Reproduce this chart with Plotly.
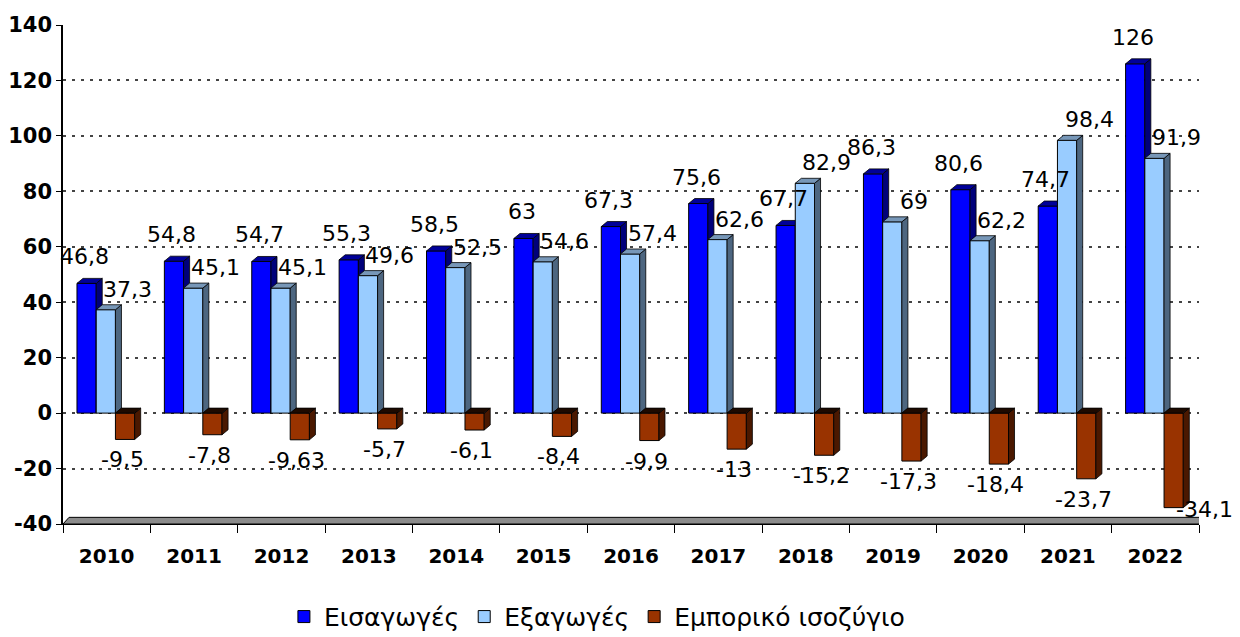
import plotly.graph_objects as go

years = ["2010", "2011", "2012", "2013", "2014", "2015", "2016",
         "2017", "2018", "2019", "2020", "2021", "2022"]
imports = [46.8, 54.8, 54.7, 55.3, 58.5, 63, 67.3, 75.6, 67.7, 86.3, 80.6, 74.7, 126]
exports = [37.3, 45.1, 45.1, 49.6, 52.5, 54.6, 57.4, 62.6, 82.9, 69, 62.2, 98.4, 91.9]
balance = [-9.5, -7.8, -9.63, -5.7, -6.1, -8.4, -9.9, -13, -15.2, -17.3, -18.4, -23.7, -34.1]
series_names = ["Εισαγωγές", "Εξαγωγές", "Εμπορικό ισοζύγιο"]
y_ticks = [-40, -20, 0, 20, 40, 60, 80, 100, 120, 140]
y_tick_labels = ["-40", "-20", "0", "20", "40", "60", "80", "100", "120", "140"]

FONT = "DejaVu Sans"
XR = [-0.5, 12.5]
YR = [-40, 140]
W = 0.22          # bar width (category units)
DX = 0.069        # 3D depth, x (category units)
DY = 1.8          # 3D depth, y (value units)

styles = [
    dict(offset=-0.34, front="#0000FF", side="#00007A", top="#000099", dx=-2, dy=12, pos="up"),
    dict(offset=-0.12, front="#99CCFF", side="#4D6680", top="#7797B8", dx=22, dy=6, pos="up"),
    dict(offset=0.10, front="#993300", side="#4A1800", top="#1E0A00", dx=-3, dy=-6, pos="down"),
]
data = [imports, exports, balance]

fig = go.Figure()
annotations = []
idx = list(range(len(years)))

def fmt(v):
    return f"{v:g}".replace(".", ",")

for k, (vals, st, name) in enumerate(zip(data, styles, series_names)):
    xa = "x" if k == 0 else f"x{k+1}"
    ya = "y" if k == 0 else f"y{k+1}"
    fig.add_trace(go.Bar(
        x=idx, y=vals, width=W, offset=st["offset"], name=name,
        marker=dict(color=st["front"], line=dict(color="#000000", width=1)),
        xaxis=xa, yaxis=ya, hoverinfo="skip",
    ))
    sx, sy, tx, ty = [], [], [], []
    for i, v in zip(idx, vals):
        x0 = i + st["offset"]
        x1 = x0 + W
        sx += [x1, x1 + DX, x1 + DX, x1, x1, None]
        sy += [0, DY, v + DY, v, 0, None]
        t = max(v, 0)
        tx += [x0, x0 + DX, x1 + DX, x1, x0, None]
        ty += [t, t + DY, t + DY, t, t, None]
    for px, py, col in ((sx, sy, st["side"]), (tx, ty, st["top"])):
        fig.add_trace(go.Scatter(
            x=px, y=py, mode="lines", fill="toself", fillcolor=col,
            line=dict(color="#000000", width=0.8), showlegend=False,
            xaxis=xa, yaxis=ya, hoverinfo="skip",
        ))
    for i, v in zip(idx, vals):
        xc = i + st["offset"] + W / 2
        if st["pos"] == "up":
            annotations.append(dict(x=xc, y=v, xref="x", yref="y", text=fmt(v),
                                    showarrow=False, yanchor="bottom",
                                    xshift=st["dx"], yshift=st["dy"]))
        elif v < -30:
            annotations.append(dict(x=i + st["offset"] + W, y=v, xref="x", yref="y",
                                    text=fmt(v), showarrow=False, xanchor="left",
                                    yanchor="middle", xshift=-9, yshift=-2))
        else:
            annotations.append(dict(x=xc, y=v, xref="x", yref="y", text=fmt(v),
                                    showarrow=False, yanchor="top",
                                    xshift=st["dx"], yshift=st["dy"]))

for a in annotations:
    a["font"] = dict(family=FONT, size=22, color="#000000")

floor = (f"M {XR[0]},{YR[0]} L {XR[1]},{YR[0]} L {XR[1] + DX},{YR[0] + 2.4} "
         f"L {XR[0] + DX},{YR[0] + 2.4} Z")

fig.update_layout(
    width=1232, height=629,
    margin=dict(l=55, r=41, t=17, b=113, autoexpand=False),
    paper_bgcolor="#FFFFFF", plot_bgcolor="#FFFFFF",
    barmode="overlay",
    font=dict(family=FONT, color="#000000"),
    showlegend=True,
    legend=dict(orientation="h", x=0.47, xanchor="center", y=-0.186, yanchor="middle",
                font=dict(family=FONT, size=25, color="#000000"),
                itemclick=False, traceorder="normal"),
    xaxis=dict(range=XR, tickmode="array", tickvals=idx, ticktext=years,
               ticks="", showgrid=False, zeroline=False, automargin=False,
               showline=True, linecolor="#000000", linewidth=1, ticklabelstandoff=14,
               tickfont=dict(family=FONT, size=20, color="#000000", weight="bold"),
               minor=dict(tickmode="array", tickvals=[i - 0.5 for i in range(len(years) + 1)],
                          ticks="outside", ticklen=8, tickcolor="#000000", tickwidth=1,
                          showgrid=False)),
    yaxis=dict(range=YR, tickmode="array", tickvals=y_ticks, ticktext=y_tick_labels,
               ticks="outside", ticklen=5, tickcolor="#000000", automargin=False,
               showline=True, linecolor="#000000", linewidth=1.5,
               showgrid=True, gridcolor="#444444", gridwidth=1.5, griddash="3px,6px",
               zeroline=False,
               tickfont=dict(family=FONT, size=21, color="#000000", weight="bold")),
    xaxis2=dict(range=XR, overlaying="x", visible=False, anchor="y2", automargin=False),
    yaxis2=dict(range=YR, overlaying="y", visible=False, anchor="x2", automargin=False),
    xaxis3=dict(range=XR, overlaying="x", visible=False, anchor="y3", automargin=False),
    yaxis3=dict(range=YR, overlaying="y", visible=False, anchor="x3", automargin=False),
    shapes=[dict(type="path", path=floor, xref="x", yref="y", layer="between",
                 fillcolor="#8C8C8C", line=dict(color="#000000", width=1))],
    annotations=annotations,
)

fig.write_html("out.html")
